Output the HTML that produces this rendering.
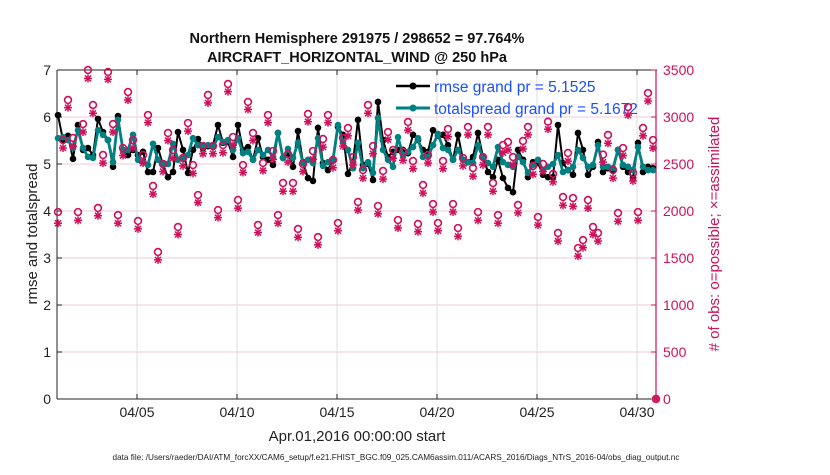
<!DOCTYPE html>
<html><head><meta charset="utf-8"><style>
body{margin:0;background:#fff;}
svg text{font-family:"Liberation Sans",Arial,sans-serif;}
</style></head><body>
<svg id="chart" width="830" height="470" xmlns="http://www.w3.org/2000/svg"></svg>
<script>
const rmseValues=[6.04,5.51,5.6,5.11,5.83,5.3,5.34,5.19,5.96,5.68,5.51,4.94,6.02,5.3,5.19,5.3,5.19,5.26,4.83,4.83,5.34,4.98,4.72,4.83,5.68,5.3,4.81,5.3,5.53,5.34,5.38,
5.4,5.83,5.45,5.47,5.15,5.83,5.3,5.36,5.09,5.55,5.15,5.09,4.98,5.66,5.13,5.23,4.94,5.7,5.04,4.7,4.64,5.77,5.02,4.87,5.09,5.79,5.62,4.79,5.04,5.94,
4.98,5.0,4.66,6.32,5.51,5.15,5.26,5.3,5.3,5.23,5.62,5.51,5.3,5.26,5.72,5.6,5.62,5.4,5.09,5.62,5.09,5.04,5.15,5.66,5.15,4.83,4.72,5.09,4.7,4.49,
4.4,5.3,5.09,4.72,5.04,5.02,4.77,4.72,4.72,5.83,5.02,4.87,4.77,5.66,5.3,4.77,4.94,5.47,4.83,4.91,4.87,5.3,4.94,4.83,4.7,5.45,4.83,4.94,4.91];
const spreadValues=[5.55,5.57,5.51,5.34,5.72,5.34,5.15,5.13,5.72,5.62,5.51,5.04,5.94,5.3,5.3,5.62,5.09,5.04,4.98,5.43,5.09,5.0,5.0,5.43,5.09,5.13,5.19,5.55,5.4,5.4,5.4,
5.36,5.57,5.47,5.51,5.3,5.55,5.23,5.26,5.09,5.3,5.19,5.3,5.15,5.66,5.13,5.32,5.13,5.45,5.02,5.09,5.02,5.55,4.96,5.04,5.09,5.83,5.47,5.3,4.91,5.45,
4.91,5.04,4.81,5.98,5.3,5.09,4.94,5.57,5.19,5.26,5.36,5.55,5.15,5.15,5.4,5.64,5.34,5.3,5.09,5.3,5.09,5.04,5.02,5.4,5.13,5.02,4.94,5.36,5.04,4.98,
4.94,5.15,5.04,4.81,4.98,5.09,4.87,4.94,5.0,5.19,4.83,4.87,4.94,5.3,5.13,4.94,4.98,5.4,4.94,4.94,4.91,5.3,4.98,4.94,4.87,5.36,4.94,4.87,4.87];
const possibleObs=[1989,2755,3181,2777,1989,2925,3500,3128,2032,2596,3479,2925,1957,2670,3266,2755,1894,2596,3021,2266,1564,2500,2830,2649,1830,2564,2936,2489,2170,2691,3234,2691,2010,2702,3351,2787,2117,2489,3160,2830,1851,2511,3021,2638,1957,2298,2606,2298,1809,2500,3032,2638,1723,2766,3021,2543,1872,2777,2883,2574,2096,2436,3128,2691,2053,2426,2840,2649,1904,2628,2947,2532,1862,2277,2596,2074,1872,2532,2872,2074,1819,2564,2894,2457,1989,2574,2894,2298,1957,2702,2734,2574,2064,2745,2894,2479,1936,2500,2950,2394,1766,2149,2617,2138,1606,1691,2117,1830,1766,2600,2809,2436,1979,2670,3106,2404,1989,2883,3255,2755,0];
const assimObs=[1870,2670,3100,2690,1900,2840,3410,3040,1950,2510,3400,2840,1870,2590,3180,2670,1810,2510,2940,2180,1480,2420,2750,2560,1750,2480,2850,2400,2090,2610,3150,2610,1930,2620,3270,2700,2030,2410,3080,2750,1770,2430,2940,2550,1870,2210,2520,2210,1720,2420,2950,2550,1640,2680,2940,2460,1790,2690,2800,2490,2010,2350,3040,2610,1970,2340,2760,2560,1820,2540,2860,2450,1780,2190,2510,1990,1790,2450,2790,1990,1730,2480,2810,2370,1900,2490,2810,2210,1870,2620,2650,2490,1980,2660,2810,2390,1850,2420,2870,2310,1680,2060,2530,2050,1520,1610,2030,1750,1680,2520,2720,2350,1890,2590,3020,2320,1900,2800,3170,2670,0];
const leftTicks=[0,1,2,3,4,5,6,7];
const rightTicks=[0,500,1000,1500,2000,2500,3000,3500];
const dayTicks=[5,10,15,20,25,30];
const dayTickLabels=["04/05","04/10","04/15","04/20","04/25","04/30"];

const NS="http://www.w3.org/2000/svg";
const svg=document.getElementById('chart');
const L=57,R=657,T=70,B=399;
const MAG="#d0105a";
const xDay=d=>L+(d-1)*(R-L)/30;
const xIdx=i=>xDay(1.05+i*0.25);
const yL=v=>B-v*(B-T)/7;
const yR=v=>B-v*(B-T)/3500;
function mk(tag,attrs,parent){const e=document.createElementNS(NS,tag);for(const k in attrs)e.setAttribute(k,attrs[k]);(parent||svg).appendChild(e);return e;}
function txt(s,attrs,parent){const e=mk('text',attrs,parent);e.textContent=s;return e;}

const grid=mk('g',{});


leftTicks.forEach(v=>{const l=mk('line',{x1:L,x2:R,y1:yL(v),y2:yL(v),stroke:"#f2c8d8","stroke-width":1},grid);

});
dayTicks.forEach(d=>{const l=mk('line',{x1:xDay(d),x2:xDay(d),y1:T,y2:B,stroke:"#dcdcdc","stroke-width":1},grid);

});

const ax=mk('g',{});


mk('line',{x1:L,x2:R,y1:T,y2:T,stroke:"#222","stroke-width":1},ax);
mk('line',{x1:L,x2:R,y1:B,y2:B,stroke:"#222","stroke-width":1},ax);
mk('line',{x1:L,x2:L,y1:T,y2:B,stroke:"#222","stroke-width":1},ax);
mk('line',{x1:R-1,x2:R-1,y1:T,y2:B,stroke:MAG,"stroke-width":1.2},ax);
leftTicks.forEach(v=>{mk('line',{x1:L,x2:L+5,y1:yL(v),y2:yL(v),stroke:"#222"},ax);
const t=txt(String(v),{x:L-6,y:yL(v)+5,"text-anchor":"end","font-size":14,fill:"#222"},ax);

});
rightTicks.forEach(v=>{mk('line',{x1:R-6,x2:R-1,y1:yR(v),y2:yR(v),stroke:MAG},ax);
const t=txt(String(v),{x:R+6,y:yR(v)+5,"font-size":14,fill:MAG},ax);

});
dayTicks.forEach((d,i)=>{mk('line',{x1:xDay(d),x2:xDay(d),y1:B,y2:B-5,stroke:"#222"},ax);mk('line',{x1:xDay(d),x2:xDay(d),y1:T,y2:T+5,stroke:"#222"},ax);
const t=txt(dayTickLabels[i],{x:xDay(d),y:B+18,"text-anchor":"middle","font-size":14,fill:"#222"},ax);

});

let t;
t=txt("Northern Hemisphere 291975 / 298652 = 97.764%",{x:357,y:43,"text-anchor":"middle","font-size":14.5,"font-weight":"bold",fill:"#111"});


t=txt("AIRCRAFT_HORIZONTAL_WIND @ 250 hPa",{x:357,y:62,"text-anchor":"middle","font-size":14.5,"font-weight":"bold",fill:"#111"});


t=txt("Apr.01,2016 00:00:00 start",{x:357,y:441,"text-anchor":"middle","font-size":15,fill:"#222"});


t=txt("rmse and totalspread",{x:0,y:0,"text-anchor":"middle","font-size":15,fill:"#222",transform:"translate(37,234) rotate(-90)"});


t=txt("# of obs: o=possible; \u00d7=assimilated",{x:0,y:0,"text-anchor":"middle","font-size":15,fill:MAG,transform:"translate(719,234) rotate(-90)"});


t=txt("data file: /Users/raeder/DAI/ATM_forcXX/CAM6_setup/f.e21.FHIST_BGC.f09_025.CAM6assim.011/ACARS_2016/Diags_NTrS_2016-04/obs_diag_output.nc",{x:396,y:460,"text-anchor":"middle","font-size":8.2,fill:"#222"});



const lg=mk('g',{});


mk('line',{x1:396,x2:430,y1:86,y2:86,stroke:"#000","stroke-width":2.5},lg);
mk('circle',{cx:413,cy:86,r:3.5,fill:"#000"},lg);
t=txt("rmse grand pr = 5.1525",{x:434,y:92,"font-size":15.5,fill:"#1a4fff"},lg);


mk('line',{x1:396,x2:430,y1:108,y2:108,stroke:"#008080","stroke-width":3},lg);
mk('circle',{cx:413,cy:108,r:3.5,fill:"#008080"},lg);
t=txt("totalspread grand pr = 5.1672",{x:434,y:114,"font-size":15.5,fill:"#1a4fff"},lg);



function series(vals,color,w,name){
const g=mk('g',{});


mk('polyline',{points:vals.map((v,i)=>xIdx(i)+","+yL(v)).join(" "),fill:"none",stroke:color,"stroke-width":w,"stroke-linejoin":"round"},g);
vals.forEach((v,i)=>{const c=mk('circle',{cx:xIdx(i),cy:yL(v),r:3.3,fill:color},g);

});
}
series(rmseValues,"#000",2,"rmse-series");
series(spreadValues,"#008080",2.8,"totalspread-series");

const og=mk('g',{});


possibleObs.forEach((v,i)=>{const x=Math.min(xIdx(i),R-1);
const c=mk('circle',{cx:x,cy:yR(v),r:3.4,fill:"none",stroke:MAG,"stroke-width":1.6},og);

});
assimObs.forEach((v,i)=>{const x=Math.min(xIdx(i),R-1),y=yR(v),s=4;
const g=mk('g',{stroke:MAG,"stroke-width":1.5},og);


mk('line',{x1:x-s,x2:x+s,y1:y,y2:y},g);mk('line',{x1:x,x2:x,y1:y-s,y2:y+s},g);
mk('line',{x1:x-3,x2:x+3,y1:y-3,y2:y+3},g);mk('line',{x1:x-3,x2:x+3,y1:y+3,y2:y-3},g);});
</script>
</body></html>
